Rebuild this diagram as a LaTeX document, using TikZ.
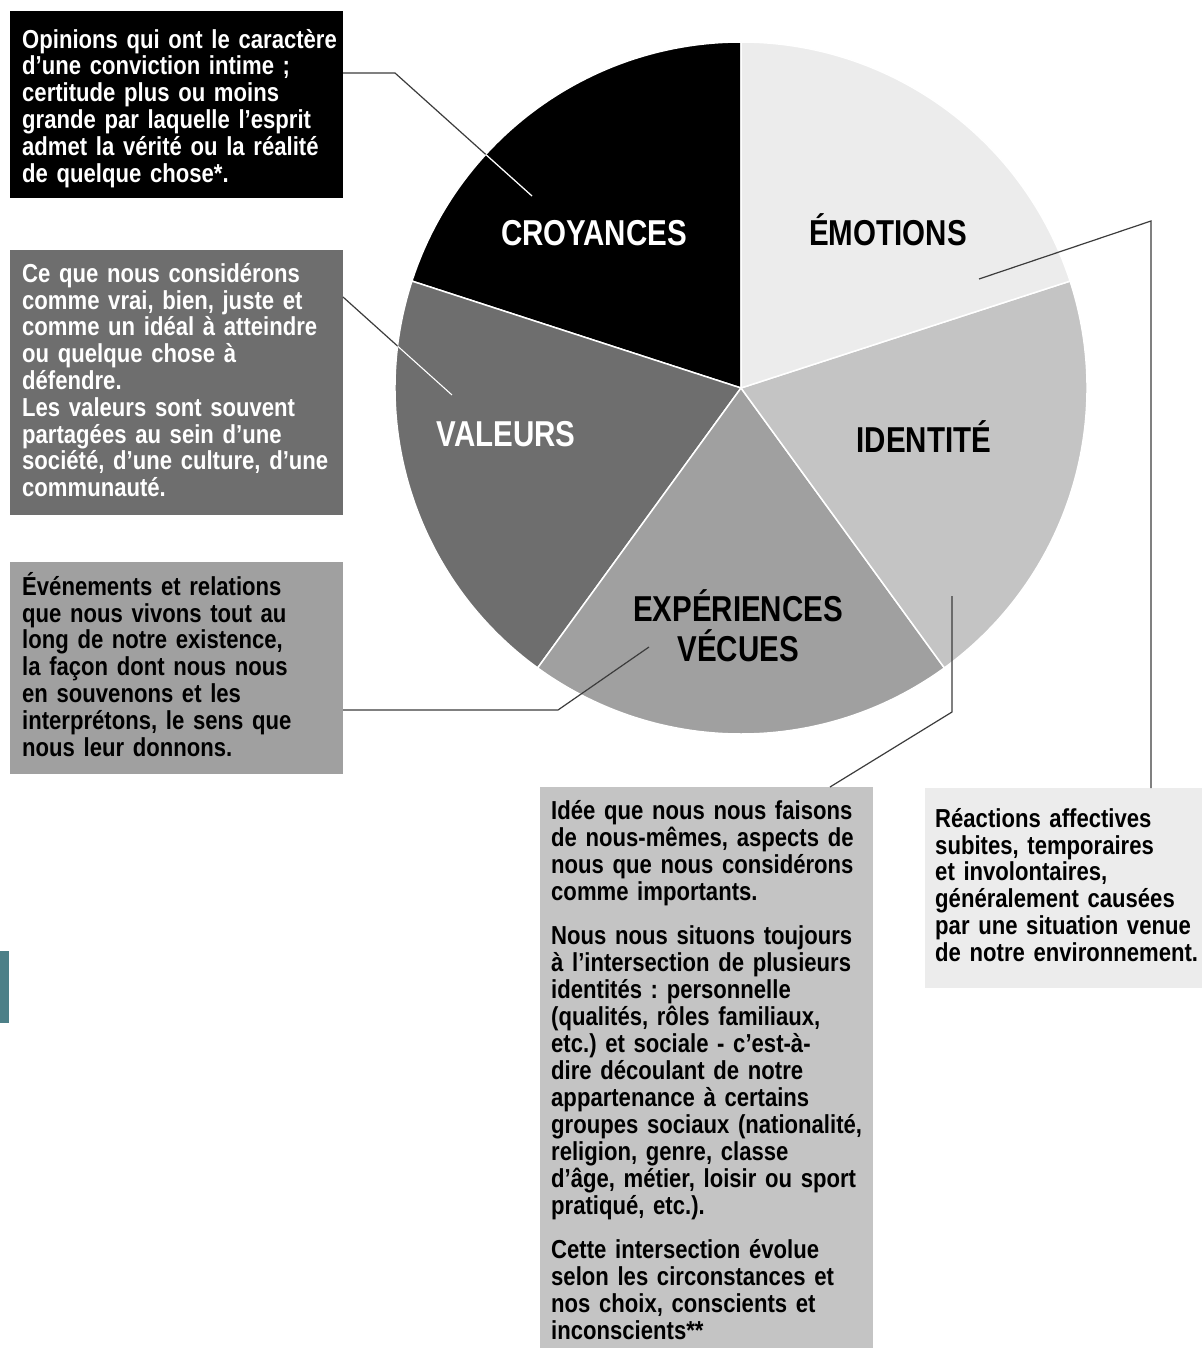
\documentclass[tikz,border=0pt]{standalone}
\usepackage{fontspec}
\setmainfont{Liberation Sans}[FakeStretch=0.85]
\newfontfamily\lblfont{Liberation Sans}[FakeStretch=0.82]
\usetikzlibrary{calc}
\definecolor{cvaleurs}{HTML}{6E6E6E}
\definecolor{cexp}{HTML}{A0A0A0}
\definecolor{cident}{HTML}{C4C4C4}
\definecolor{cemo}{HTML}{ECECEC}
\definecolor{cteal}{HTML}{4D8088}
\definecolor{cline}{HTML}{3C3C3C}
\newcommand{\tstr}{\rule{0pt}{25pt}}
\newcommand{\lstr}{\rule{0pt}{36pt}}
\frenchspacing
\begin{document}
\begin{tikzpicture}[x=1pt,y=-1pt,
  panel/.style={anchor=north west, inner sep=0pt, outer sep=0pt},
  desc/.style={anchor=north west, inner sep=0pt, align=left, text width=380pt,
    font=\fontsize{26}{26.8}\selectfont\bfseries\frenchspacing},
  slicelabel/.style={anchor=base, inner sep=0pt,
    font=\lblfont\fontsize{36}{40}\selectfont\bfseries},
  slice/.style={draw=white, line width=1.5pt, line join=round},
  conn/.style={draw=cline, line width=1.2pt},
  connw/.style={draw=white, line width=1.2pt}]

\useasboundingbox (0,0) rectangle (1202,1348);
\fill[white] (0,0) rectangle (1202,1348);

% pie
\coordinate (pc) at (741,388);
\draw[slice, fill=black]    (pc) -- ++(-90:346)  arc[start angle=-90,  end angle=-162, radius=346] -- cycle;
\draw[slice, fill=cvaleurs] (pc) -- ++(-162:346) arc[start angle=-162, end angle=-234, radius=346] -- cycle;
\draw[slice, fill=cexp]     (pc) -- ++(-234:346) arc[start angle=-234, end angle=-306, radius=346] -- cycle;
\draw[slice, fill=cident]   (pc) -- ++(-306:346) arc[start angle=-306, end angle=-378, radius=346] -- cycle;
\draw[slice, fill=cemo]     (pc) -- ++(-18:346)  arc[start angle=-18,  end angle=-90,  radius=346] -- cycle;

\node[slicelabel, text=white] (lcroy) at (594,246) {CROYANCES};
\node[slicelabel] (lemo) at (888,246) {ÉMOTIONS};
\node[slicelabel, text=white] (lval) at (506,446) {VALEURS};
\node[slicelabel] (lid) at (924,452) {IDENTITÉ};
\node[anchor=north, inner sep=0pt, align=center,
  font=\lblfont\fontsize{36}{40}\selectfont\bfseries] (lexp) at (738,585)
  {\lstr EXPÉRIENCES\\VÉCUES};

% panels
\node[panel, fill=black, minimum width=333pt, minimum height=187pt] (pcroy) at (10,11) {};
\node[panel, fill=cvaleurs, minimum width=333pt, minimum height=265pt] (pval) at (10,250) {};
\node[panel, fill=cexp, minimum width=333pt, minimum height=212pt] (pexp) at (10,562) {};
\node[panel, fill=cident, minimum width=333pt, minimum height=561pt] (pid) at (540,787) {};
\node[panel, fill=cemo, minimum width=277pt, minimum height=200pt] (pemo) at (925,788) {};

\fill[cteal] (0,951) rectangle (9,1023);

% texts
\node[desc, text=white] (tcroy) at (22,23) {\tstr Opinions qui ont le caractère\\
d’une conviction intime~;\\
certitude plus ou moins\\
grande par laquelle l’esprit\\
admet la vérité ou la réalité\\
de quelque chose*.};

\node[desc, text=white] (tval) at (22,257) {\tstr Ce que nous considérons\\
comme vrai, bien, juste et\\
comme un idéal à atteindre\\
ou quelque chose à\\
défendre.\\
Les valeurs sont souvent\\
partagées au sein d’une\\
société, d’une culture, d’une\\
communauté.};

\node[desc] (texp) at (22,570) {\tstr Événements et relations\\
que nous vivons tout au\\
long de notre existence,\\
la façon dont nous nous\\
en souvenons et les\\
interprétons, le sens que\\
nous leur donnons.};

\node[desc, font=\fontsize{26}{27}\selectfont\bfseries\frenchspacing] (tid) at (551,794) {\tstr Idée que nous nous faisons\\
de nous-mêmes, aspects de\\
nous que nous considérons\\
comme importants.\\[17pt]
Nous nous situons toujours\\
à l’intersection de plusieurs\\
identités~: personnelle\\
(qualités, rôles familiaux,\\
etc.) et sociale - c’est-à-\\
dire découlant de notre\\
appartenance à certains\\
groupes sociaux (nationalité,\\
religion, genre, classe\\
d’âge, métier, loisir ou sport\\
pratiqué, etc.).\\[17pt]
Cette intersection évolue\\
selon les circonstances et\\
nos choix, conscients et\\
inconscients**};

\node[desc] (temo) at (935,802) {\tstr Réactions affectives\\
subites, temporaires\\
et involontaires,\\
généralement causées\\
par une situation venue\\
de notre environnement.};

% connectors
\coordinate (kcroy) at (395,73);
\coordinate (ccroy) at (532,196);
\coordinate (cval) at (452,395);
\coordinate (kexp) at (558,710);
\coordinate (cexpe) at (649,647);
\coordinate (cid) at (952,596);
\coordinate (kid) at (952,712);
\coordinate (cemoe) at (979,279);
\coordinate (kemo) at (1151,221);

\draw[conn] (pcroy.east |- kcroy) -- (kcroy) -- (ccroy);
\draw[conn] ($(pval.north east)+(0,47)$) -- (cval);
\draw[conn] (pexp.east |- kexp) -- (kexp) -- (cexpe);
\draw[conn] (cid) -- (kid) -- ($(pid.north west)+(290,0)$);
\draw[conn] (cemoe) -- (kemo) -- (pemo.north -| kemo);

\begin{scope}
  \clip (pc) circle[radius=346];
  \draw[connw] (kcroy) -- (ccroy);
  \draw[connw] ($(pval.north east)+(0,47)$) -- (cval);
\end{scope}
\end{tikzpicture}
\end{document}
